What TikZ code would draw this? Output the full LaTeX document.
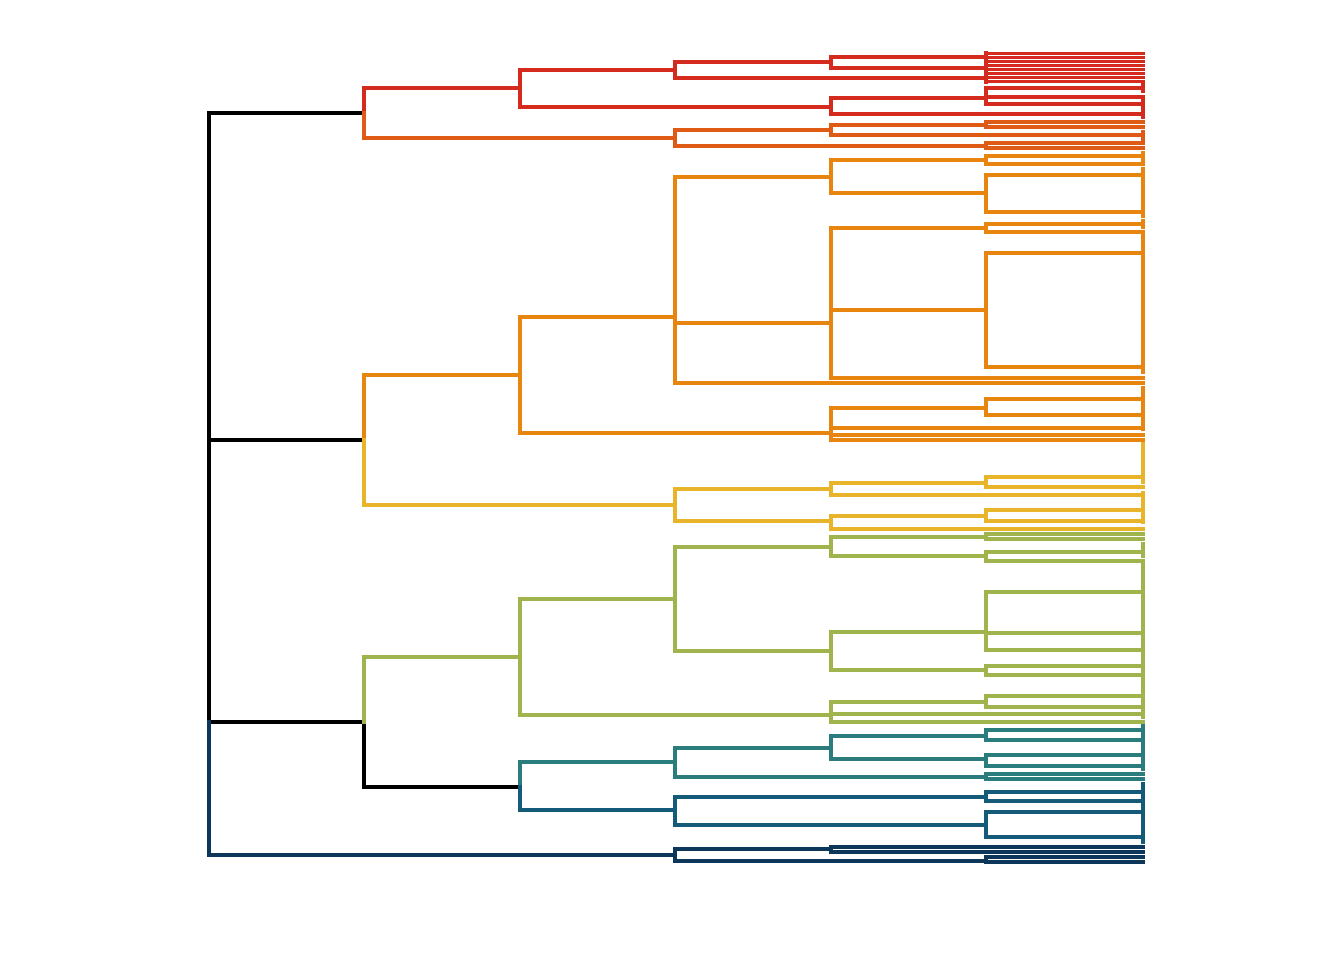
\documentclass[tikz,border=0pt]{standalone}
\begin{document}
\begin{tikzpicture}[x=1pt,y=-1pt,line width=4.2pt,line cap=rect]
\definecolor{cK}{HTML}{000000}
\definecolor{cR}{HTML}{D52B1E}
\definecolor{cOR}{HTML}{DF5A14}
\definecolor{cO}{HTML}{E8850F}
\definecolor{cY}{HTML}{E8B42A}
\definecolor{cG}{HTML}{A0B44D}
\definecolor{cT}{HTML}{2B7C7D}
\definecolor{cB}{HTML}{155A78}
\definecolor{cN}{HTML}{0C365A}
\tikzset{K/.style={draw=cK},R/.style={draw=cR},OR/.style={draw=cOR},O/.style={draw=cO},
 Y/.style={draw=cY},G/.style={draw=cG},T/.style={draw=cT},B/.style={draw=cB},N/.style={draw=cN}}
\newcommand\hseg[4]{\draw[#1] (#3,#2) -- (#4,#2);}
\newcommand\vseg[4]{\draw[#1] (#2,#3) -- (#2,#4);}
\newcommand\leaves[2]{\foreach \yy in {#2} {\draw[#1,line width=3.8pt] (986,\yy) -- (1143,\yy);}}
\useasboundingbox[fill=white] (0,0) rectangle (1344,960);
% black
\vseg{K}{209}{113.3}{721.7}
\hseg{K}{113.3}{209}{364}
\hseg{K}{440}{209}{364}
\hseg{K}{721.7}{209}{364}
\vseg{K}{364}{721.7}{786.7}
\hseg{K}{786.7}{364}{520}
% navy
\vseg{N}{209}{721.7}{855}
\hseg{N}{855}{209}{675}
\vseg{N}{675}{849.3}{861}
\hseg{N}{849.3}{675}{831}
\vseg{N}{831}{847.3}{851.7}
\hseg{N}{847.3}{831}{1143}
\hseg{N}{851.7}{831}{1143}
\hseg{N}{861}{675}{986}
\vseg{N}{986}{856.7}{861.7}
\leaves{N}{856.7,861.7}
% red
\vseg{R}{364}{88.3}{113.3}
\hseg{R}{88.3}{364}{520}
\vseg{R}{520}{70}{106.7}
\hseg{R}{70}{520}{675}
\hseg{R}{106.7}{520}{831}
\vseg{R}{675}{62.3}{78.3}
\hseg{R}{62.3}{675}{831}
\hseg{R}{78.3}{675}{986}
\vseg{R}{831}{57}{67.7}
\hseg{R}{57}{831}{986}
\hseg{R}{67.7}{831}{986}
\vseg{R}{986}{53.5}{81.5}
\leaves{R}{53.5,57.5,61.5,65.5,69.5,73.5,77.5,81.5}
\vseg{R}{831}{98.3}{114.3}
\hseg{R}{98.3}{831}{986}
\hseg{R}{114.3}{831}{1143}
\vseg{R}{986}{88.3}{104.3}
\leaves{R}{88.3,96.7,104.3}
\vseg{R}{1143}{85}{91}
\vseg{R}{1143}{101}{107}
\vseg{R}{1143}{111}{117}
% orange-red
\vseg{OR}{364}{113.3}{138.3}
\hseg{OR}{138.3}{364}{675}
\vseg{OR}{675}{130}{146}
\hseg{OR}{130}{675}{831}
\hseg{OR}{146}{675}{986}
\vseg{OR}{831}{125}{135}
\hseg{OR}{125}{831}{986}
\hseg{OR}{135}{831}{1143}
\vseg{OR}{986}{122.3}{126.7}
\leaves{OR}{122.3,126.7}
\vseg{OR}{986}{143.3}{148.3}
\leaves{OR}{143.3,148.3}
\vseg{OR}{1143}{132}{139}
% orange
\vseg{O}{364}{375}{440}
\hseg{O}{375}{364}{520}
\vseg{O}{520}{316.7}{433.3}
\hseg{O}{316.7}{520}{675}
\hseg{O}{433.3}{520}{831}
\vseg{O}{675}{176.7}{382.7}
\hseg{O}{176.7}{675}{831}
\hseg{O}{323.3}{675}{831}
\hseg{O}{382.7}{675}{1143}
\vseg{O}{831}{160}{192.7}
\hseg{O}{160}{831}{986}
\hseg{O}{192.7}{831}{986}
\vseg{O}{986}{155.7}{164}
\leaves{O}{155.7,164}
\vseg{O}{986}{175}{211.7}
\leaves{O}{175,211.7}
\vseg{O}{831}{228.3}{378.3}
\hseg{O}{228.3}{831}{986}
\hseg{O}{310}{831}{986}
\hseg{O}{378.3}{831}{1143}
\vseg{O}{986}{224}{232.3}
\leaves{O}{224,232.3}
\vseg{O}{986}{253.3}{367.3}
\leaves{O}{253.3,367.3}
\vseg{O}{831}{408.3}{440}
\hseg{O}{408.3}{831}{986}
\hseg{O}{427.7}{831}{1143}
\hseg{O}{435}{831}{1143}
\hseg{O}{440}{831}{1143}
\vseg{O}{986}{399.3}{415}
\leaves{O}{399.3,415}
\vseg{O}{1143}{153}{161}
\vseg{O}{1143}{169}{216}
\vseg{O}{1143}{221}{227}
\vseg{O}{1143}{236}{372}
\vseg{O}{1143}{388}{429}
% yellow
\vseg{Y}{364}{440}{505}
\hseg{Y}{505}{364}{675}
\vseg{Y}{675}{489.3}{520.7}
\hseg{Y}{489.3}{675}{831}
\hseg{Y}{520.7}{675}{831}
\vseg{Y}{831}{482.7}{495}
\hseg{Y}{482.7}{831}{986}
\hseg{Y}{495}{831}{1143}
\vseg{Y}{986}{476.7}{487.3}
\leaves{Y}{476.7,487.3}
\vseg{Y}{831}{516}{529.3}
\hseg{Y}{516}{831}{986}
\hseg{Y}{529.3}{831}{1143}
\vseg{Y}{986}{510}{521.3}
\leaves{Y}{510,521.3}
\vseg{Y}{1143}{444}{482}
\vseg{Y}{1143}{493}{522}
% green
\vseg{G}{364}{656.7}{721.7}
\hseg{G}{656.7}{364}{520}
\vseg{G}{520}{599}{715}
\hseg{G}{599}{520}{675}
\hseg{G}{715}{520}{831}
\vseg{G}{675}{546.7}{650.7}
\hseg{G}{546.7}{675}{831}
\hseg{G}{650.7}{675}{831}
\vseg{G}{831}{537.3}{556}
\hseg{G}{537.3}{831}{986}
\hseg{G}{556}{831}{986}
\vseg{G}{986}{534.3}{539.3}
\leaves{G}{534.3,539.3}
\vseg{G}{986}{551.7}{560.7}
\leaves{G}{551.7,560.7}
\vseg{G}{831}{631.7}{670}
\hseg{G}{631.7}{831}{986}
\hseg{G}{670}{831}{986}
\vseg{G}{986}{591.7}{650}
\leaves{G}{591.7,633.3,650}
\vseg{G}{986}{666}{675}
\leaves{G}{666,675}
\vseg{G}{831}{701.7}{721.7}
\hseg{G}{701.7}{831}{986}
\hseg{G}{714.3}{831}{1143}
\hseg{G}{721.7}{831}{1143}
\vseg{G}{986}{696}{706.7}
\leaves{G}{696,706.7}
\vseg{G}{1143}{544}{556}
\vseg{G}{1143}{564}{672}
\vseg{G}{1143}{679}{717}
% teal
\vseg{T}{520}{762.3}{786.7}
\hseg{T}{762.3}{520}{675}
\vseg{T}{675}{748.3}{777.3}
\hseg{T}{748.3}{675}{831}
\hseg{T}{777.3}{675}{986}
\vseg{T}{831}{735.7}{759.3}
\hseg{T}{735.7}{831}{986}
\hseg{T}{759.3}{831}{986}
\vseg{T}{986}{730.3}{740}
\leaves{T}{730.3,740}
\vseg{T}{986}{755}{766}
\leaves{T}{755,766}
\vseg{T}{986}{774}{779.3}
\leaves{T}{774,779.3}
\vseg{T}{1143}{726}{769}
% blue
\vseg{B}{520}{786.7}{810}
\hseg{B}{810}{520}{675}
\vseg{B}{675}{796.7}{825}
\hseg{B}{796.7}{675}{986}
\hseg{B}{825}{675}{986}
\vseg{B}{986}{791.7}{800.7}
\leaves{B}{791.7,800.7}
\vseg{B}{986}{811.7}{837.3}
\leaves{B}{811.7,837.3}
\vseg{B}{1143}{784}{842}
\end{tikzpicture}
\end{document}
